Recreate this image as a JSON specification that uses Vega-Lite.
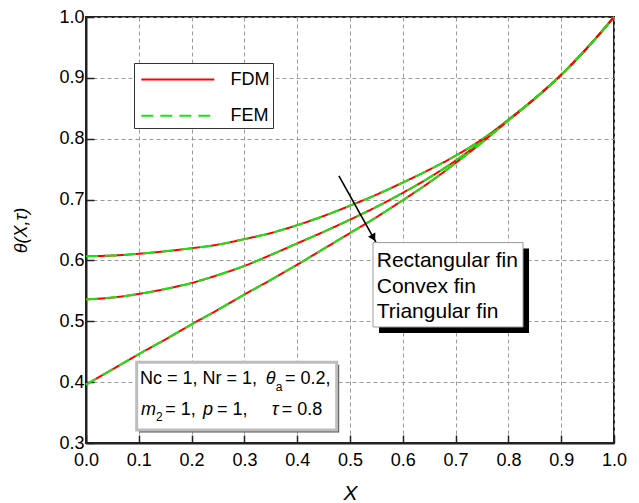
{
  "$schema": "https://vega.github.io/schema/vega-lite/v6.json",
  "width": 528,
  "height": 426,
  "autosize": {"type": "none"},
  "padding": {"left": 86, "top": 17, "right": 25, "bottom": 60},
  "background": "white",
  "config": {
    "font": "Liberation Sans",
    "view": {"stroke": "#222", "strokeWidth": 2},
    "text": {"font": "Liberation Sans", "color": "#000"},
    "axis": {
      "labelFont": "Liberation Sans", "labelFontSize": 18, "labelColor": "#000",
      "labelFlush": false, "labelOverlap": false,
      "titleFont": "Liberation Sans", "titleFontStyle": "italic", "titleFontWeight": "normal", "titleColor": "#000",
      "grid": true, "gridWidth": 1,
      "tickColor": "#222", "tickWidth": 1.5,
      "domainColor": "#222", "domainWidth": 2
    },
    "axisX": {"labelPadding": 16, "titleFontSize": 21, "titlePadding": 13},
    "axisY": {"labelPadding": 10, "titleFontSize": 18, "titlePadding": 28}
  },
  "datasets": {
    "curves": [
      {"X": 0.00, "shape": "Rectangular", "FDM": 0.607, "FEM": 0.607},
      {"X": 0.05, "shape": "Rectangular", "FDM": 0.608, "FEM": 0.608},
      {"X": 0.10, "shape": "Rectangular", "FDM": 0.611, "FEM": 0.611},
      {"X": 0.15, "shape": "Rectangular", "FDM": 0.615, "FEM": 0.615},
      {"X": 0.20, "shape": "Rectangular", "FDM": 0.620, "FEM": 0.620},
      {"X": 0.25, "shape": "Rectangular", "FDM": 0.626, "FEM": 0.626},
      {"X": 0.30, "shape": "Rectangular", "FDM": 0.635, "FEM": 0.635},
      {"X": 0.35, "shape": "Rectangular", "FDM": 0.645, "FEM": 0.645},
      {"X": 0.40, "shape": "Rectangular", "FDM": 0.658, "FEM": 0.658},
      {"X": 0.45, "shape": "Rectangular", "FDM": 0.673, "FEM": 0.673},
      {"X": 0.50, "shape": "Rectangular", "FDM": 0.690, "FEM": 0.690},
      {"X": 0.55, "shape": "Rectangular", "FDM": 0.708, "FEM": 0.708},
      {"X": 0.60, "shape": "Rectangular", "FDM": 0.728, "FEM": 0.728},
      {"X": 0.65, "shape": "Rectangular", "FDM": 0.749, "FEM": 0.749},
      {"X": 0.70, "shape": "Rectangular", "FDM": 0.772, "FEM": 0.772},
      {"X": 0.75, "shape": "Rectangular", "FDM": 0.799, "FEM": 0.799},
      {"X": 0.80, "shape": "Rectangular", "FDM": 0.831, "FEM": 0.831},
      {"X": 0.85, "shape": "Rectangular", "FDM": 0.866, "FEM": 0.866},
      {"X": 0.90, "shape": "Rectangular", "FDM": 0.905, "FEM": 0.905},
      {"X": 0.95, "shape": "Rectangular", "FDM": 0.950, "FEM": 0.950},
      {"X": 1.00, "shape": "Rectangular", "FDM": 1.000, "FEM": 1.000},
      {"X": 0.00, "shape": "Convex", "FDM": 0.536, "FEM": 0.536},
      {"X": 0.05, "shape": "Convex", "FDM": 0.539, "FEM": 0.539},
      {"X": 0.10, "shape": "Convex", "FDM": 0.545, "FEM": 0.545},
      {"X": 0.15, "shape": "Convex", "FDM": 0.553, "FEM": 0.553},
      {"X": 0.20, "shape": "Convex", "FDM": 0.563, "FEM": 0.563},
      {"X": 0.25, "shape": "Convex", "FDM": 0.576, "FEM": 0.576},
      {"X": 0.30, "shape": "Convex", "FDM": 0.591, "FEM": 0.591},
      {"X": 0.35, "shape": "Convex", "FDM": 0.609, "FEM": 0.609},
      {"X": 0.40, "shape": "Convex", "FDM": 0.628, "FEM": 0.628},
      {"X": 0.45, "shape": "Convex", "FDM": 0.647, "FEM": 0.647},
      {"X": 0.50, "shape": "Convex", "FDM": 0.667, "FEM": 0.667},
      {"X": 0.55, "shape": "Convex", "FDM": 0.688, "FEM": 0.688},
      {"X": 0.60, "shape": "Convex", "FDM": 0.711, "FEM": 0.711},
      {"X": 0.65, "shape": "Convex", "FDM": 0.736, "FEM": 0.736},
      {"X": 0.70, "shape": "Convex", "FDM": 0.764, "FEM": 0.764},
      {"X": 0.75, "shape": "Convex", "FDM": 0.796, "FEM": 0.796},
      {"X": 0.80, "shape": "Convex", "FDM": 0.831, "FEM": 0.831},
      {"X": 0.85, "shape": "Convex", "FDM": 0.866, "FEM": 0.866},
      {"X": 0.90, "shape": "Convex", "FDM": 0.905, "FEM": 0.905},
      {"X": 0.95, "shape": "Convex", "FDM": 0.950, "FEM": 0.950},
      {"X": 1.00, "shape": "Convex", "FDM": 1.000, "FEM": 1.000},
      {"X": 0.00, "shape": "Triangular", "FDM": 0.396, "FEM": 0.396},
      {"X": 0.05, "shape": "Triangular", "FDM": 0.421, "FEM": 0.421},
      {"X": 0.10, "shape": "Triangular", "FDM": 0.446, "FEM": 0.446},
      {"X": 0.15, "shape": "Triangular", "FDM": 0.470, "FEM": 0.470},
      {"X": 0.20, "shape": "Triangular", "FDM": 0.495, "FEM": 0.495},
      {"X": 0.25, "shape": "Triangular", "FDM": 0.519, "FEM": 0.519},
      {"X": 0.30, "shape": "Triangular", "FDM": 0.544, "FEM": 0.544},
      {"X": 0.35, "shape": "Triangular", "FDM": 0.568, "FEM": 0.568},
      {"X": 0.40, "shape": "Triangular", "FDM": 0.593, "FEM": 0.593},
      {"X": 0.45, "shape": "Triangular", "FDM": 0.619, "FEM": 0.619},
      {"X": 0.50, "shape": "Triangular", "FDM": 0.645, "FEM": 0.645},
      {"X": 0.55, "shape": "Triangular", "FDM": 0.671, "FEM": 0.671},
      {"X": 0.60, "shape": "Triangular", "FDM": 0.699, "FEM": 0.699},
      {"X": 0.65, "shape": "Triangular", "FDM": 0.728, "FEM": 0.728},
      {"X": 0.70, "shape": "Triangular", "FDM": 0.760, "FEM": 0.760},
      {"X": 0.75, "shape": "Triangular", "FDM": 0.794, "FEM": 0.794},
      {"X": 0.80, "shape": "Triangular", "FDM": 0.830, "FEM": 0.830},
      {"X": 0.85, "shape": "Triangular", "FDM": 0.866, "FEM": 0.866},
      {"X": 0.90, "shape": "Triangular", "FDM": 0.905, "FEM": 0.905},
      {"X": 0.95, "shape": "Triangular", "FDM": 0.950, "FEM": 0.950},
      {"X": 1.00, "shape": "Triangular", "FDM": 1.000, "FEM": 1.000}
    ],
    "arrow": [{"x1": 0.479, "y1": 0.739, "x2": 0.549, "y2": 0.630}],
    "arrowhead": [{"x": 0.5444, "y": 0.6372}],
    "finbox": [{"x1": 0.5436, "x2": 0.8277, "y1": 0.6293, "y2": 0.4906}],
    "fintext": [
      {"x": 0.5506, "y": 0.5986, "label": "Rectangular fin"},
      {"x": 0.5506, "y": 0.5564, "label": "Convex fin"},
      {"x": 0.5506, "y": 0.5153, "label": "Triangular fin"}
    ],
    "parbox": [{"x1": 0.0960, "x2": 0.4748, "y1": 0.4326, "y2": 0.3214}],
    "parregular": [
      {"x": 0.1023, "y": 0.3965, "label": "Nc = 1, Nr = 1,"},
      {"x": 0.3769, "y": 0.3965, "label": "= 0.2,"},
      {"x": 0.1500, "y": 0.3460, "label": "= 1,"},
      {"x": 0.2481, "y": 0.3460, "label": "= 1,"},
      {"x": 0.3706, "y": 0.3460, "label": "= 0.8"}
    ],
    "paritalic": [
      {"x": 0.3403, "y": 0.3965, "label": "θ"},
      {"x": 0.1042, "y": 0.3460, "label": "m"},
      {"x": 0.2216, "y": 0.3460, "label": "p"},
      {"x": 0.3517, "y": 0.3460, "label": "τ"}
    ],
    "parsub": [
      {"x": 0.3593, "y": 0.3850, "label": "a"},
      {"x": 0.1326, "y": 0.3357, "label": "2"}
    ]
  },
  "layer": [
    {
      "data": {"name": "curves"},
      "transform": [{"fold": ["FDM", "FEM"], "as": ["method", "theta"]}],
      "mark": {"type": "line", "strokeWidth": 2, "interpolate": "monotone"},
      "encoding": {
        "x": {
          "field": "X", "type": "quantitative",
          "scale": {"domain": [0, 1], "nice": false, "zero": false},
          "axis": {
            "values": [0, 0.05, 0.1, 0.15, 0.2, 0.25, 0.3, 0.35, 0.4, 0.45, 0.5, 0.55, 0.6, 0.65, 0.7, 0.75, 0.8, 0.85, 0.9, 0.95, 1],
            "labelExpr": "abs(datum.value*10 - round(datum.value*10)) < 0.001 ? format(datum.value, '.1f') : ''",
            "title": "X",
            "gridColor": {"condition": {"test": "abs(datum.value*10 - round(datum.value*10)) < 0.001", "value": "#9a9a9a"}, "value": "#cfcfcf"},
            "gridDash": {"condition": {"test": "abs(datum.value*10 - round(datum.value*10)) < 0.001", "value": [4, 3]}, "value": [1, 2]},
            "tickSize": {"condition": {"test": "abs(datum.value*10 - round(datum.value*10)) < 0.001", "value": -8}, "value": -5}
          }
        },
        "y": {
          "field": "theta", "type": "quantitative",
          "scale": {"domain": [0.3, 1], "nice": false, "zero": false},
          "axis": {
            "values": [0.3, 0.35, 0.4, 0.45, 0.5, 0.55, 0.6, 0.65, 0.7, 0.75, 0.8, 0.85, 0.9, 0.95, 1],
            "labelExpr": "abs(datum.value*10 - round(datum.value*10)) < 0.001 ? format(datum.value, '.1f') : ''",
            "title": "θ(X,τ)",
            "gridColor": {"condition": {"test": "abs(datum.value*10 - round(datum.value*10)) < 0.001", "value": "#9a9a9a"}, "value": "#cfcfcf"},
            "gridDash": {"condition": {"test": "abs(datum.value*10 - round(datum.value*10)) < 0.001", "value": [4, 3]}, "value": [1, 2]},
            "tickSize": {"condition": {"test": "abs(datum.value*10 - round(datum.value*10)) < 0.001", "value": -8}, "value": -5}
          }
        },
        "color": {
          "field": "method", "type": "nominal",
          "scale": {"domain": ["FDM", "FEM"], "range": ["#ff0000", "#14e814"]},
          "legend": {"title": null, "orient": "none", "legendX": 48, "legendY": 46, "symbolType": "M-3,0L3,0", "symbolSize": 592, "symbolOffset": 27.3, "symbolStrokeWidth": 2, "labelFontSize": 18, "labelColor": "#000", "labelOffset": 39.2, "labelExpr": "datum.label + '   '", "padding": 3, "rowPadding": 13.2, "strokeColor": "#333", "fillColor": "white"}
        },
        "strokeDash": {
          "field": "method", "type": "nominal",
          "scale": {"domain": ["FDM", "FEM"], "range": [[1, 0], [12, 7]]},
          "legend": {"title": null, "orient": "none", "legendX": 48, "legendY": 46, "symbolType": "M-3,0L3,0", "symbolSize": 592, "symbolOffset": 27.3, "symbolStrokeWidth": 2, "labelFontSize": 18, "labelColor": "#000", "labelOffset": 39.2, "labelExpr": "datum.label + '   '", "padding": 3, "rowPadding": 13.2, "strokeColor": "#333", "fillColor": "white"}
        },
        "detail": {"field": "shape", "type": "nominal"}
      }
    },
    {
      "data": {"name": "arrow"},
      "mark": {"type": "rule", "color": "#000", "strokeWidth": 1.6},
      "encoding": {
        "x": {"field": "x1", "type": "quantitative", "scale": {"domain": [0, 1]}, "axis": {"title": "X"}},
        "y": {"field": "y1", "type": "quantitative", "scale": {"domain": [0.3, 1]}, "axis": {"title": "θ(X,τ)"}},
        "x2": {"field": "x2"},
        "y2": {"field": "y2"}
      }
    },
    {
      "data": {"name": "arrowhead"},
      "mark": {"type": "point", "shape": "triangle-down", "filled": true, "color": "#000", "opacity": 1, "size": 70, "angle": 330.7},
      "encoding": {
        "x": {"field": "x", "type": "quantitative", "scale": {"domain": [0, 1]}, "axis": {"title": "X"}},
        "y": {"field": "y", "type": "quantitative", "scale": {"domain": [0.3, 1]}, "axis": {"title": "θ(X,τ)"}}
      }
    },
    {
      "data": {"name": "finbox"},
      "mark": {"type": "rect", "color": "#000", "xOffset": 6, "x2Offset": 6, "yOffset": 6, "y2Offset": 6},
      "encoding": {
        "x": {"field": "x1", "type": "quantitative", "scale": {"domain": [0, 1]}, "axis": {"title": "X"}},
        "x2": {"field": "x2"},
        "y": {"field": "y1", "type": "quantitative", "scale": {"domain": [0.3, 1]}, "axis": {"title": "θ(X,τ)"}},
        "y2": {"field": "y2"}
      }
    },
    {
      "data": {"name": "finbox"},
      "mark": {"type": "rect", "fill": "white", "stroke": "#999", "strokeWidth": 1},
      "encoding": {
        "x": {"field": "x1", "type": "quantitative", "scale": {"domain": [0, 1]}, "axis": {"title": "X"}},
        "x2": {"field": "x2"},
        "y": {"field": "y1", "type": "quantitative", "scale": {"domain": [0.3, 1]}, "axis": {"title": "θ(X,τ)"}},
        "y2": {"field": "y2"}
      }
    },
    {
      "data": {"name": "fintext"},
      "mark": {"type": "text", "align": "left", "baseline": "middle", "fontSize": 21, "color": "#000"},
      "encoding": {
        "x": {"field": "x", "type": "quantitative", "scale": {"domain": [0, 1]}, "axis": {"title": "X"}},
        "y": {"field": "y", "type": "quantitative", "scale": {"domain": [0.3, 1]}, "axis": {"title": "θ(X,τ)"}},
        "text": {"field": "label"}
      }
    },
    {
      "data": {"name": "parbox"},
      "mark": {"type": "rect", "color": "#555", "xOffset": 2.5, "x2Offset": 2.5, "yOffset": 2.5, "y2Offset": 2.5},
      "encoding": {
        "x": {"field": "x1", "type": "quantitative", "scale": {"domain": [0, 1]}, "axis": {"title": "X"}},
        "x2": {"field": "x2"},
        "y": {"field": "y1", "type": "quantitative", "scale": {"domain": [0.3, 1]}, "axis": {"title": "θ(X,τ)"}},
        "y2": {"field": "y2"}
      }
    },
    {
      "data": {"name": "parbox"},
      "mark": {"type": "rect", "fill": "white", "stroke": "#bdbdbd", "strokeWidth": 3},
      "encoding": {
        "x": {"field": "x1", "type": "quantitative", "scale": {"domain": [0, 1]}, "axis": {"title": "X"}},
        "x2": {"field": "x2"},
        "y": {"field": "y1", "type": "quantitative", "scale": {"domain": [0.3, 1]}, "axis": {"title": "θ(X,τ)"}},
        "y2": {"field": "y2"}
      }
    },
    {
      "data": {"name": "parregular"},
      "mark": {"type": "text", "align": "left", "baseline": "alphabetic", "fontSize": 18, "color": "#000"},
      "encoding": {
        "x": {"field": "x", "type": "quantitative", "scale": {"domain": [0, 1]}, "axis": {"title": "X"}},
        "y": {"field": "y", "type": "quantitative", "scale": {"domain": [0.3, 1]}, "axis": {"title": "θ(X,τ)"}},
        "text": {"field": "label"}
      }
    },
    {
      "data": {"name": "paritalic"},
      "mark": {"type": "text", "align": "left", "baseline": "alphabetic", "fontSize": 18, "fontStyle": "italic", "color": "#000"},
      "encoding": {
        "x": {"field": "x", "type": "quantitative", "scale": {"domain": [0, 1]}, "axis": {"title": "X"}},
        "y": {"field": "y", "type": "quantitative", "scale": {"domain": [0.3, 1]}, "axis": {"title": "θ(X,τ)"}},
        "text": {"field": "label"}
      }
    },
    {
      "data": {"name": "parsub"},
      "mark": {"type": "text", "align": "left", "baseline": "alphabetic", "fontSize": 12, "color": "#000"},
      "encoding": {
        "x": {"field": "x", "type": "quantitative", "scale": {"domain": [0, 1]}, "axis": {"title": "X"}},
        "y": {"field": "y", "type": "quantitative", "scale": {"domain": [0.3, 1]}, "axis": {"title": "θ(X,τ)"}},
        "text": {"field": "label"}
      }
    }
  ]
}
